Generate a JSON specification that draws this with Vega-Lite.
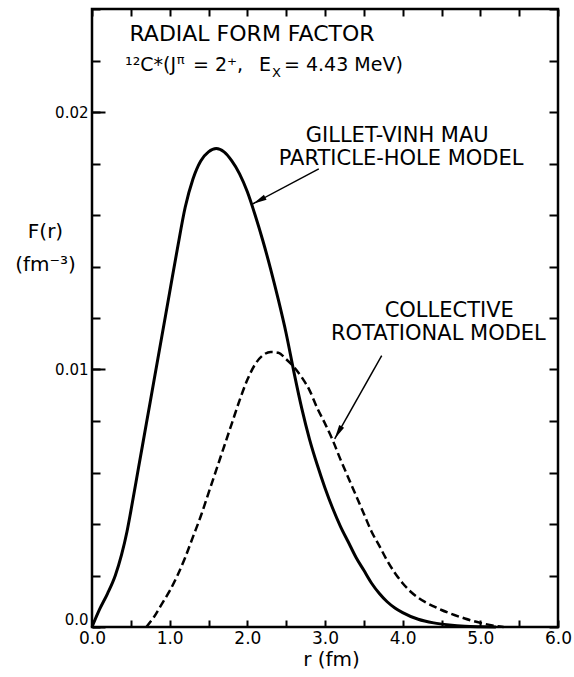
{
  "$schema": "https://vega.github.io/schema/vega-lite/v6.json",
  "width": 466,
  "height": 618,
  "autosize": {"type": "none"},
  "padding": {"left": 92, "top": 9, "right": 16, "bottom": 50},
  "background": "white",
  "config": {
    "view": {"stroke": "black", "strokeWidth": 2.5},
    "font": "DejaVu Sans",
    "axis": {"grid": false, "domain": false, "tickColor": "black", "tickWidth": 2, "labelColor": "black", "titleColor": "black", "labelFont": "DejaVu Sans", "titleFont": "DejaVu Sans", "titleFontWeight": "normal"}
  },
  "resolve": {"axis": {"x": "independent", "y": "independent"}},
  "datasets": {
    "gvm": [
      {"r": 0, "F": 0}, {"r": 0.1, "F": 0.0007}, {"r": 0.2, "F": 0.0013}, {"r": 0.3, "F": 0.002},
      {"r": 0.38, "F": 0.0028}, {"r": 0.45, "F": 0.0037}, {"r": 0.5, "F": 0.0045}, {"r": 0.6, "F": 0.0062},
      {"r": 0.7, "F": 0.0079}, {"r": 0.8, "F": 0.0096}, {"r": 0.9, "F": 0.0113}, {"r": 1.0, "F": 0.013},
      {"r": 1.1, "F": 0.0147}, {"r": 1.2, "F": 0.0163}, {"r": 1.3, "F": 0.0174}, {"r": 1.4, "F": 0.0181},
      {"r": 1.5, "F": 0.01845}, {"r": 1.6, "F": 0.01858}, {"r": 1.7, "F": 0.01845}, {"r": 1.8, "F": 0.0181},
      {"r": 1.9, "F": 0.0176}, {"r": 2.0, "F": 0.0169}, {"r": 2.1, "F": 0.016}, {"r": 2.2, "F": 0.015},
      {"r": 2.3, "F": 0.0139}, {"r": 2.4, "F": 0.0127}, {"r": 2.5, "F": 0.0114}, {"r": 2.6, "F": 0.0099},
      {"r": 2.7, "F": 0.0085}, {"r": 2.8, "F": 0.0073}, {"r": 2.9, "F": 0.0063}, {"r": 3.0, "F": 0.0054},
      {"r": 3.1, "F": 0.0046}, {"r": 3.2, "F": 0.0039}, {"r": 3.3, "F": 0.0033}, {"r": 3.4, "F": 0.0027},
      {"r": 3.5, "F": 0.0022}, {"r": 3.6, "F": 0.0017}, {"r": 3.7, "F": 0.0013}, {"r": 3.8, "F": 0.00098},
      {"r": 3.9, "F": 0.00074}, {"r": 4.0, "F": 0.00056}, {"r": 4.2, "F": 0.0003}, {"r": 4.4, "F": 0.00016},
      {"r": 4.6, "F": 0.00008}, {"r": 4.8, "F": 0.00003}, {"r": 5.0, "F": 0.00001}, {"r": 5.2, "F": 0}
    ],
    "crm": [
      {"r": 0.7, "F": 0}, {"r": 0.8, "F": 0.0004}, {"r": 0.9, "F": 0.0009}, {"r": 1.0, "F": 0.0014},
      {"r": 1.1, "F": 0.002}, {"r": 1.2, "F": 0.0027}, {"r": 1.3, "F": 0.0035}, {"r": 1.4, "F": 0.0043},
      {"r": 1.5, "F": 0.0052}, {"r": 1.6, "F": 0.0061}, {"r": 1.7, "F": 0.007}, {"r": 1.8, "F": 0.0079},
      {"r": 1.9, "F": 0.0088}, {"r": 2.0, "F": 0.0096}, {"r": 2.1, "F": 0.0102}, {"r": 2.2, "F": 0.01055},
      {"r": 2.3, "F": 0.01068}, {"r": 2.4, "F": 0.01065}, {"r": 2.5, "F": 0.0104}, {"r": 2.6, "F": 0.0101},
      {"r": 2.7, "F": 0.0097}, {"r": 2.8, "F": 0.0092}, {"r": 2.9, "F": 0.0085}, {"r": 3.0, "F": 0.0079},
      {"r": 3.1, "F": 0.00725}, {"r": 3.2, "F": 0.0065}, {"r": 3.3, "F": 0.0058}, {"r": 3.4, "F": 0.0051},
      {"r": 3.5, "F": 0.0044}, {"r": 3.6, "F": 0.0037}, {"r": 3.7, "F": 0.00315}, {"r": 3.8, "F": 0.00258},
      {"r": 3.9, "F": 0.0021}, {"r": 4.0, "F": 0.0017}, {"r": 4.1, "F": 0.00138}, {"r": 4.2, "F": 0.00114},
      {"r": 4.3, "F": 0.00095}, {"r": 4.4, "F": 0.0008}, {"r": 4.5, "F": 0.00066}, {"r": 4.6, "F": 0.00054},
      {"r": 4.8, "F": 0.00033}, {"r": 5.0, "F": 0.00016}, {"r": 5.2, "F": 0.00004}, {"r": 5.3, "F": 0}
    ],
    "arrows": [
      {"id": 1, "x1": 2.92, "y1": 0.01779, "x2": 2.07, "y2": 0.01643},
      {"id": 2, "x1": 3.73, "y1": 0.01054, "x2": 3.125, "y2": 0.00731}
    ],
    "title1": [
      {"text": "RADIAL   FORM   FACTOR", "x": 2.06, "y": 0.02276}
    ],
    "labels": [
      {"text": "GILLET-VINH MAU", "x": 3.93, "y": 0.01883},
      {"text": "PARTICLE-HOLE MODEL", "x": 3.98, "y": 0.01794},
      {"text": "COLLECTIVE", "x": 4.6, "y": 0.01204},
      {"text": "ROTATIONAL MODEL", "x": 4.46, "y": 0.01115}
    ],
    "line2": [
      {"text": "¹²C*(J", "x": 0.425, "y": 0.0216},
      {"text": "= 2⁺,", "x": 1.3, "y": 0.0216},
      {"text": "E", "x": 2.15, "y": 0.0216},
      {"text": "= 4.43 MeV)", "x": 2.472, "y": 0.0216}
    ],
    "line2small": [
      {"text": "π", "x": 1.09, "y": 0.02186},
      {"text": "X", "x": 2.317, "y": 0.02136}
    ]
  },
  "layer": [
    {
      "data": {"name": "gvm"},
      "mark": {"type": "line", "color": "black", "strokeWidth": 3, "interpolate": "monotone"},
      "encoding": {
        "x": {"field": "r", "type": "quantitative", "scale": {"domain": [0, 6], "nice": false, "zero": false},
          "axis": {"orient": "bottom", "values": [0, 0.5, 1, 1.5, 2, 2.5, 3, 3.5, 4, 4.5, 5, 5.5, 6], "tickSize": -7, "labelPadding": 10,
            "labelExpr": "datum.value % 1 == 0 ? format(datum.value, '.1f') : ''", "labelFontSize": 17, "labelFlush": false, "labelOverlap": false,
            "title": "r (fm)", "titleFontSize": 20, "titleX": 239, "titleY": 38, "titleAlign": "center", "titleBaseline": "alphabetic"}},
        "y": {"field": "F", "type": "quantitative", "scale": {"domain": [0, 0.024], "nice": false},
          "axis": {"orient": "left", "values": [0, 0.002, 0.004, 0.006, 0.008, 0.01, 0.012, 0.014, 0.016, 0.018, 0.02, 0.022, 0.024], "tickSize": -8, "labels": false, "title": null}}
      }
    },
    {
      "data": {"name": "crm"},
      "mark": {"type": "line", "color": "black", "strokeWidth": 2.5, "strokeDash": [8, 4], "interpolate": "monotone"},
      "encoding": {
        "x": {"field": "r", "type": "quantitative", "scale": {"domain": [0, 6], "nice": false, "zero": false},
          "axis": {"orient": "top", "values": [0, 0.5, 1, 1.5, 2, 2.5, 3, 3.5, 4, 4.5, 5, 5.5, 6], "tickSize": -7, "labels": false, "title": null}},
        "y": {"field": "F", "type": "quantitative", "scale": {"domain": [0, 0.024], "nice": false},
          "axis": {"orient": "right", "values": [0, 0.002, 0.004, 0.006, 0.008, 0.01, 0.012, 0.014, 0.016, 0.018, 0.02, 0.022, 0.024], "tickSize": -9, "labels": false, "title": null}}
      }
    },
    {
      "data": {"name": "arrows"},
      "mark": {"type": "rule", "color": "black", "strokeWidth": 1.5},
      "encoding": {
        "x": {"field": "x1", "type": "quantitative", "scale": {"domain": [0, 6], "nice": false, "zero": false}, "axis": null},
        "y": {"field": "y1", "type": "quantitative", "scale": {"domain": [0, 0.024], "nice": false},
          "axis": {"orient": "left", "values": [0, 0.01, 0.02], "tickSize": -13, "labelPadding": 17,
            "labelExpr": "datum.value == 0 ? '0.0' : format(datum.value, '.2f')", "labelFontSize": 15, "labelFlush": true, "labelOverlap": false,
            "title": ["F(r)", "(fm⁻³)"], "titleAngle": 0, "titleAlign": "center", "titleBaseline": "alphabetic", "titleX": -47, "titleY": 228, "titleLineHeight": 33, "titleFontSize": 20}},
        "x2": {"field": "x2"},
        "y2": {"field": "y2"}
      }
    },
    {
      "data": {"name": "arrows"},
      "transform": [{"filter": "datum.id == 1"}],
      "mark": {"type": "point", "shape": "M0,0L-0.4,2L0.4,2Z", "filled": true, "color": "black", "opacity": 1, "size": 200, "angle": 242},
      "encoding": {
        "x": {"field": "x2", "type": "quantitative", "scale": {"domain": [0, 6], "nice": false, "zero": false}, "axis": null},
        "y": {"field": "y2", "type": "quantitative", "scale": {"domain": [0, 0.024], "nice": false}, "axis": null}
      }
    },
    {
      "data": {"name": "arrows"},
      "transform": [{"filter": "datum.id == 2"}],
      "mark": {"type": "point", "shape": "M0,0L-0.4,2L0.4,2Z", "filled": true, "color": "black", "opacity": 1, "size": 200, "angle": 209.4},
      "encoding": {
        "x": {"field": "x2", "type": "quantitative", "scale": {"domain": [0, 6], "nice": false, "zero": false}, "axis": null},
        "y": {"field": "y2", "type": "quantitative", "scale": {"domain": [0, 0.024], "nice": false}, "axis": null}
      }
    },
    {
      "data": {"name": "title1"},
      "mark": {"type": "text", "fontSize": 22, "align": "center", "baseline": "alphabetic", "color": "black"},
      "encoding": {
        "x": {"field": "x", "type": "quantitative", "scale": {"domain": [0, 6], "nice": false, "zero": false}, "axis": null},
        "y": {"field": "y", "type": "quantitative", "scale": {"domain": [0, 0.024], "nice": false}, "axis": null},
        "text": {"field": "text"}
      }
    },
    {
      "data": {"name": "labels"},
      "mark": {"type": "text", "fontSize": 21, "align": "center", "baseline": "alphabetic", "color": "black"},
      "encoding": {
        "x": {"field": "x", "type": "quantitative", "scale": {"domain": [0, 6], "nice": false, "zero": false}, "axis": null},
        "y": {"field": "y", "type": "quantitative", "scale": {"domain": [0, 0.024], "nice": false}, "axis": null},
        "text": {"field": "text"}
      }
    },
    {
      "data": {"name": "line2"},
      "mark": {"type": "text", "fontSize": 19, "align": "left", "baseline": "alphabetic", "color": "black"},
      "encoding": {
        "x": {"field": "x", "type": "quantitative", "scale": {"domain": [0, 6], "nice": false, "zero": false}, "axis": null},
        "y": {"field": "y", "type": "quantitative", "scale": {"domain": [0, 0.024], "nice": false}, "axis": null},
        "text": {"field": "text"}
      }
    },
    {
      "data": {"name": "line2small"},
      "mark": {"type": "text", "fontSize": 13, "align": "left", "baseline": "alphabetic", "color": "black"},
      "encoding": {
        "x": {"field": "x", "type": "quantitative", "scale": {"domain": [0, 6], "nice": false, "zero": false}, "axis": null},
        "y": {"field": "y", "type": "quantitative", "scale": {"domain": [0, 0.024], "nice": false}, "axis": null},
        "text": {"field": "text"}
      }
    }
  ]
}
